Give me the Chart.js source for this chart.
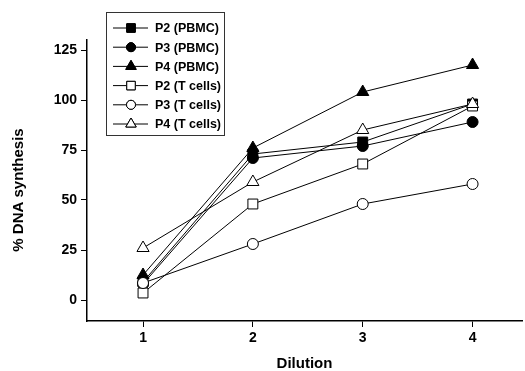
<!DOCTYPE html>
<html>
<head>
<meta charset="utf-8">
<script src="https://cdn.jsdelivr.net/npm/chart.js@4.4.0/dist/chart.umd.min.js"></script>
<style>
  html, body { margin: 0; padding: 0; background: #fff; }
  #wrap { width: 525px; height: 371px; position: relative; }
</style>
</head>
<body>
<div id="wrap"><canvas id="chart"></canvas></div>
<script>
// values
const dilutions = [1, 2, 3, 4];
const p2Pbmc = [9, 73, 79, 98];
const p3Pbmc = [8, 71, 77, 89];
const p4Pbmc = [12.5, 76, 104, 117.5];
const p2T = [3.5, 48, 68, 97];
const p3T = [8.5, 28, 48, 58];
const p4T = [26, 59, 85, 98];
const yTicks = [0, 25, 50, 75, 100, 125];
const yTitle = '% DNA synthesis';

const FONT = '"Liberation Sans", Arial, Helvetica, sans-serif';

const series = [
  { label: 'P2 (PBMC)', data: p2Pbmc, style: 'rect', r: 7, fill: '#000' },
  { label: 'P3 (PBMC)', data: p3Pbmc, style: 'circle', r: 5.5, fill: '#000' },
  { label: 'P4 (PBMC)', data: p4Pbmc, style: 'triangle', r: 7, fill: '#000' },
  { label: 'P2 (T cells)', data: p2T, style: 'rect', r: 7, fill: '#fff' },
  { label: 'P3 (T cells)', data: p3T, style: 'circle', r: 5.5, fill: '#fff' },
  { label: 'P4 (T cells)', data: p4T, style: 'triangle', r: 7, fill: '#fff' }
];

// legend with line-marker-line samples, plus the y title sitting a bit low like the original
const extras = {
  id: 'extras',
  afterDraw(chart) {
    const ctx = chart.ctx;
    ctx.save();
    ctx.fillStyle = '#fff';
    ctx.fillRect(106.5, 12.5, 118, 123);
    ctx.strokeStyle = '#333';
    ctx.lineWidth = 1;
    ctx.strokeRect(106.5, 12.5, 118, 123);
    series.forEach((s, i) => {
      const y = 28 + i * 19.2;
      ctx.strokeStyle = '#000';
      ctx.beginPath();
      ctx.moveTo(113, y);
      ctx.lineTo(148, y);
      ctx.stroke();
      ctx.fillStyle = s.fill;
      Chart.helpers.drawPoint(ctx, { pointStyle: s.style, radius: s.r - 1, borderWidth: 1 }, 131, y);
      ctx.fill();
      ctx.stroke();
      ctx.fillStyle = '#000';
      ctx.font = 'bold 12.5px ' + FONT;
      ctx.textBaseline = 'middle';
      ctx.fillText(s.label, 155, y + 1);
    });

    ctx.translate(19, 190);
    ctx.rotate(-Math.PI / 2);
    ctx.font = 'bold 15px ' + FONT;
    ctx.textAlign = 'center';
    ctx.textBaseline = 'middle';
    ctx.fillText(yTitle, 0, 0);
    ctx.restore();
  }
};

new Chart(document.getElementById('chart'), {
  type: 'line',
  data: {
    datasets: series.map((s, i) => ({
      label: s.label,
      data: s.data.map((v, j) => ({ x: dilutions[j], y: v })),
      order: 10 - i, // T-cell (open) markers sit on top, as in the figure
      borderColor: '#000',
      borderWidth: 1,
      backgroundColor: s.fill,
      pointStyle: s.style,
      pointRadius: s.r,
      pointHoverRadius: s.r,
      pointBorderColor: '#000',
      pointBackgroundColor: s.fill,
      pointBorderWidth: 1,
      tension: 0
    }))
  },
  options: {
    responsive: true,
    maintainAspectRatio: false,
    animation: false,
    layout: { autoPadding: false, padding: { top: 40, right: 3, left: 0, bottom: 0 } },
    plugins: {
      legend: { display: false },
      tooltip: { enabled: false }
    },
    scales: {
      x: {
        type: 'linear',
        min: 0.49,
        max: 4.45,
        afterBuildTicks: s => { s.ticks = dilutions.map(v => ({ value: v })); },
        afterFit: s => { s.height = 50; },
        grid: { drawOnChartArea: false, drawTicks: true, tickLength: 6, color: '#000' },
        border: { display: true, color: '#000', width: 1.5 },
        ticks: { color: '#000', padding: 3, font: { family: FONT, size: 14, weight: 'bold' } },
        title: {
          display: true, text: 'Dilution', color: '#000',
          padding: { top: 0, bottom: 0 },
          font: { family: FONT, size: 15, weight: 'bold', lineHeight: 1 }
        }
      },
      y: {
        min: -10.5,
        max: 130,
        afterBuildTicks: s => { s.ticks = yTicks.map(v => ({ value: v })); },
        afterFit: s => { s.width = 87; },
        grid: { drawOnChartArea: false, drawTicks: true, tickLength: 6, color: '#000' },
        border: { display: true, color: '#000', width: 1.5 },
        ticks: { color: '#000', padding: 4, font: { family: FONT, size: 14, weight: 'bold' } }
      }
    }
  },
  plugins: [extras]
});
</script>
</body>
</html>
